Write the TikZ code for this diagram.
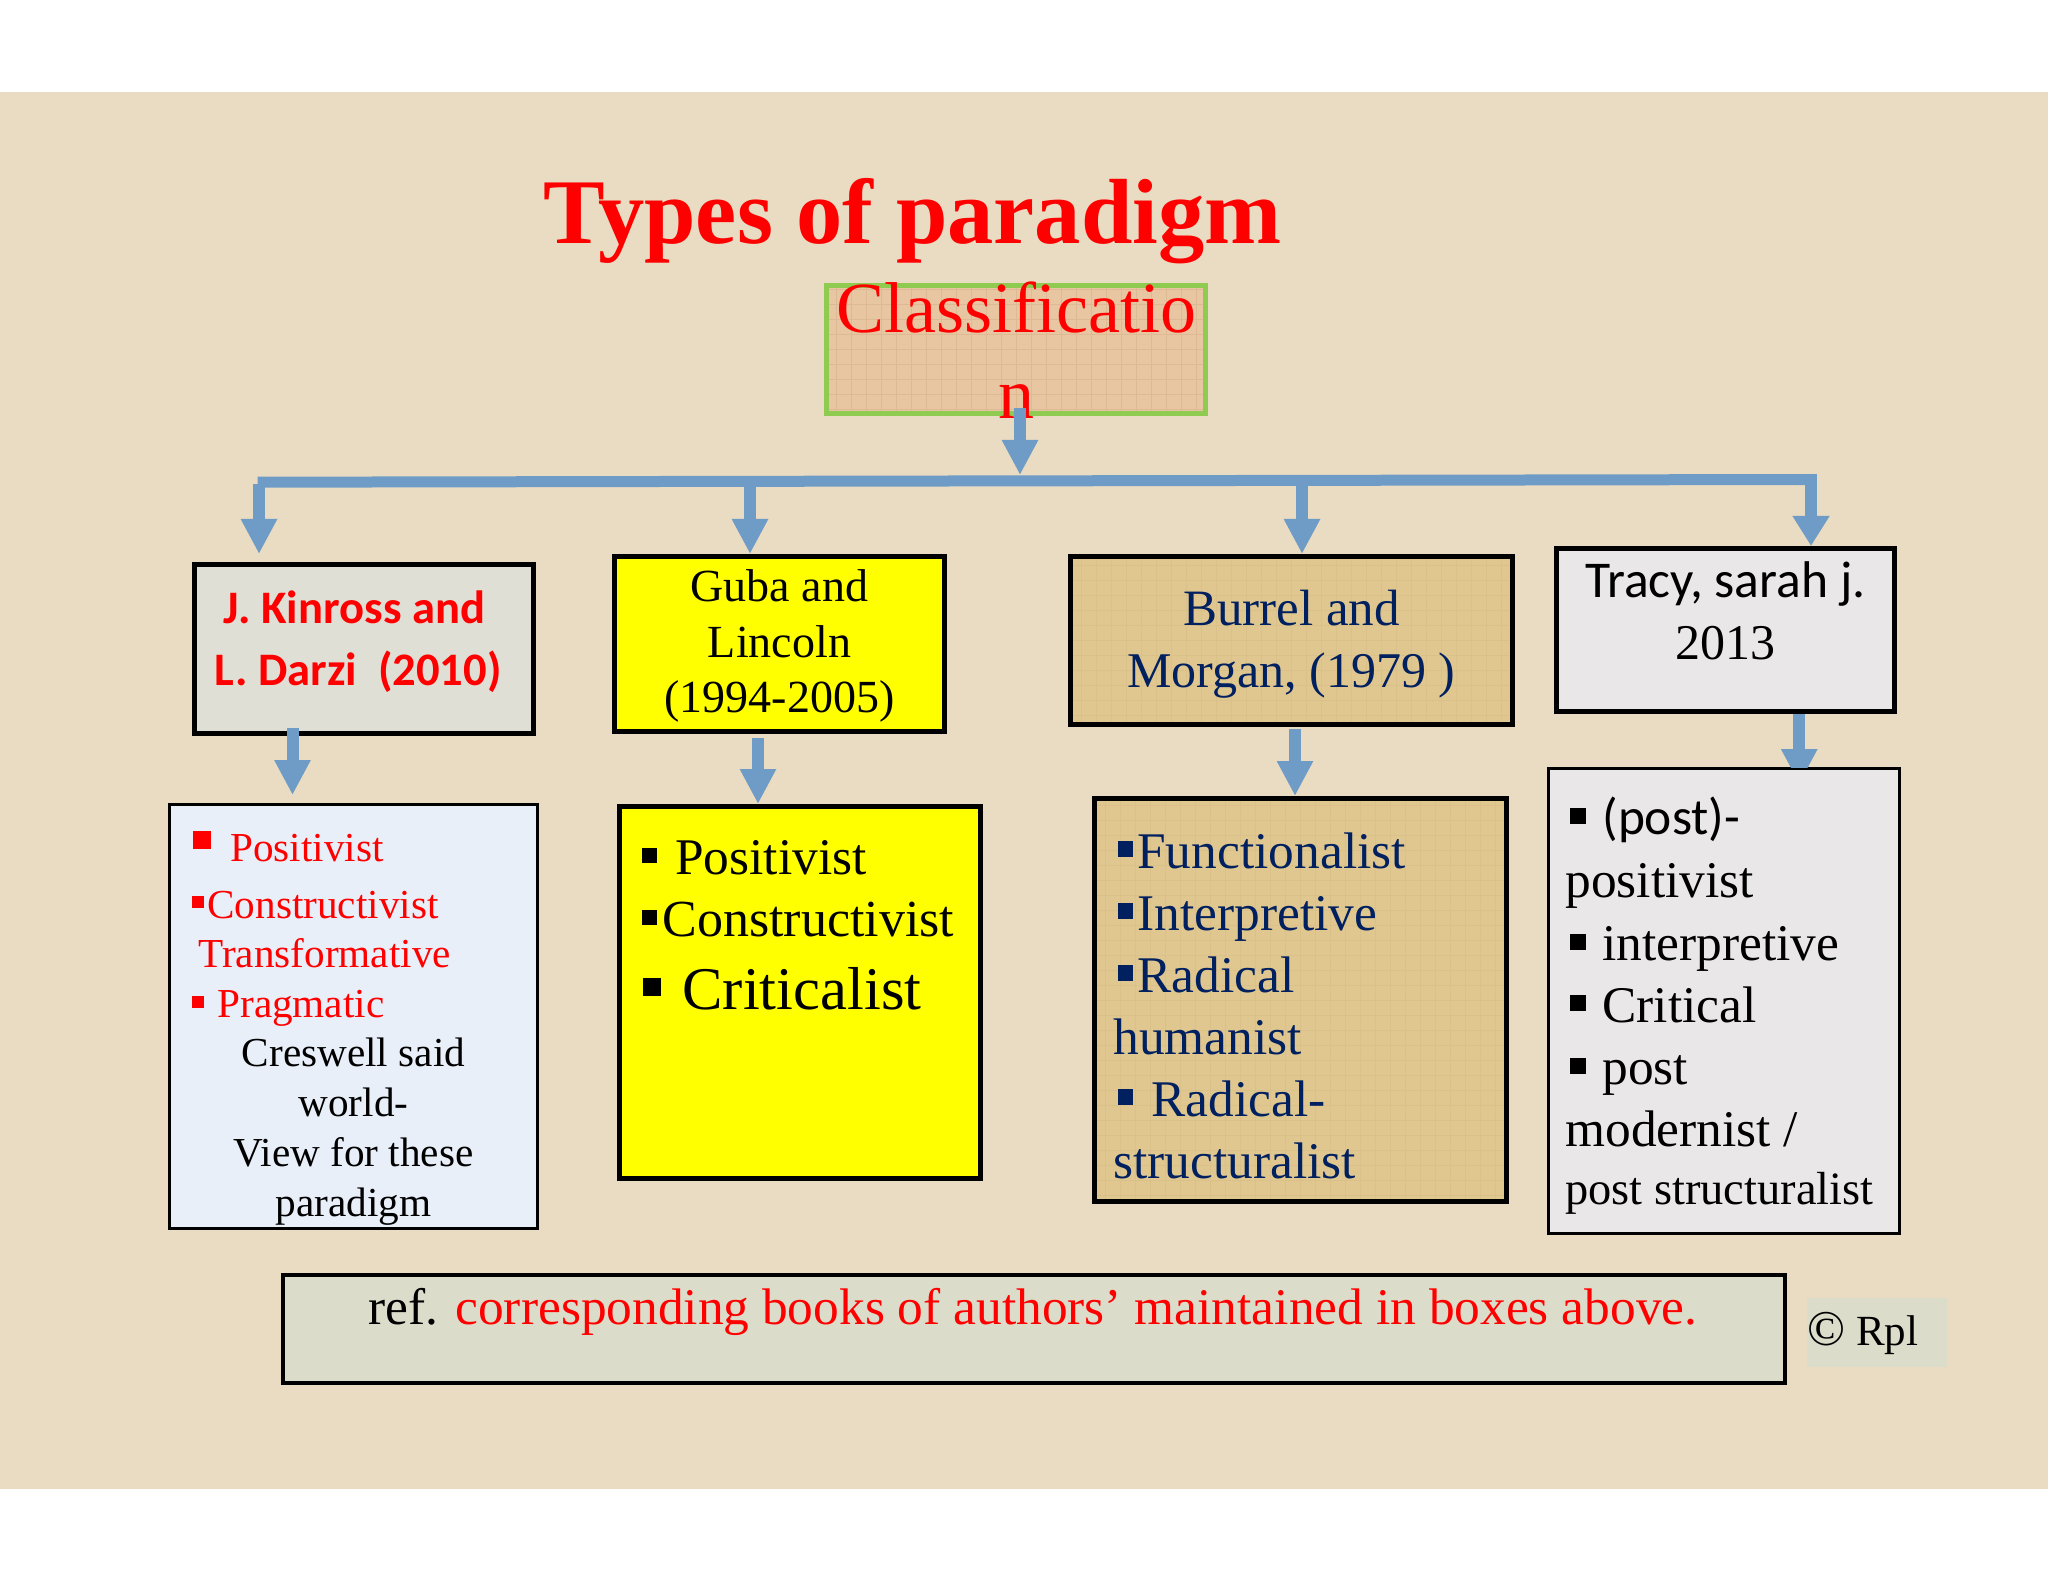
\documentclass[tikz,border=0pt]{standalone}
\usepackage{fontspec}
\setmainfont{Liberation Serif}
\newfontfamily\calibrifont{Carlito}
\usetikzlibrary{positioning,arrows.meta}
\definecolor{slidebg}{HTML}{EADCC2}
\definecolor{flowblue}{HTML}{6F9CC6}
\definecolor{leafgreen}{HTML}{8FCB50}
\definecolor{peach}{HTML}{E8C6A2}
\definecolor{peachline}{HTML}{DDB994}
\definecolor{tan}{HTML}{E0C78F}
\definecolor{tanline}{HTML}{DAC189}
\definecolor{sage}{HTML}{DFDFD5}
\definecolor{refsage}{HTML}{DBDDCA}
\definecolor{paleblue}{HTML}{E9EFF8}
\definecolor{palegrey}{HTML}{E9E7E8}
\definecolor{navy}{HTML}{002060}
\definecolor{brightyellow}{HTML}{FFFF00}
\tikzset{
  meshfill/.style={
    path picture={
      \draw[#1, line width=.25pt, step=7.5pt]
        (path picture bounding box.south west) grid (path picture bounding box.north east);
    }
  },
}

\begin{document}
\begin{tikzpicture}[
    boxstyle/.style={draw=black, line width=2.5pt, anchor=north west, inner sep=0pt},
    thinbox/.style={draw=black, line width=1.5pt, anchor=north west, inner sep=0pt},
    flow/.style={draw=flowblue, line width=6pt, -{Triangle[length=17.5pt,width=17pt]}},
    busline/.style={draw=flowblue, line width=5.5pt},
    sqmark/.style={minimum size=#1, inner sep=0pt, outer sep=0pt, anchor=north west},
    listitem/.style={inner sep=0pt, anchor=base west, font=\fontsize{25.7}{30}\selectfont},
    smallitem/.style={inner sep=0pt, anchor=base west, font=\fontsize{20.6}{24}\selectfont},
    boxline/.style={inner sep=0pt, anchor=base, font=\fontsize{25.5}{30}\selectfont},
  ]
  \useasboundingbox (0,0) rectangle (1024pt,-791pt);
  \fill[slidebg] (0,-46pt) rectangle (1024pt,-744.5pt);

  \node (title) [inner sep=0pt, anchor=base west, text=red, font=\fontsize{46.25}{50}\selectfont\bfseries] at (271.5pt,-122pt) {Types of paradigm};

  % top box
  \node (classbox) [below right=19.5pt and 140.5pt of title.base west, boxstyle, draw=leafgreen, fill=peach, meshfill=peachline, minimum width=189.5pt, minimum height=64pt] {};
  \node (class-a) [below=25pt of classbox.north, boxline, text=red, font=\fontsize{36}{40}\selectfont] {Classif{}icatio};
  \node (class-b) [below=68pt of classbox.north, boxline, text=red, font=\fontsize{36}{40}\selectfont] {n};

  % authors
  \node (kinross) [below left=73pt and 316pt of classbox.south west, boxstyle, fill=sage, minimum width=169.5pt, minimum height=84.5pt] {};
  \node (guba) [right=38pt of kinross.north east, yshift=4pt, boxstyle, fill=brightyellow, minimum width=165pt, minimum height=87.5pt] {};
  \node (burrel) [right=60.5pt of guba.north east, boxstyle, fill=tan, meshfill=tanline, minimum width=221pt, minimum height=84pt] {};
  \node (tracy) [right=19.25pt of burrel.north east, yshift=4pt, boxstyle, fill=palegrey, minimum width=169.25pt, minimum height=81.5pt] {};

  \node (kinross-a) [below right=31pt and 15.5pt of kinross.north west, listitem, text=red, font=\fontsize{23.3}{27}\selectfont\calibrifont\bfseries] {J. Kinross and};
  \node (kinross-b) [below right=61.5pt and 11pt of kinross.north west, listitem, text=red, font=\fontsize{23.3}{27}\selectfont\calibrifont\bfseries] {L. Darzi~~(2010)};

  \node (guba-a) [below=24pt of guba.north, boxline, font=\fontsize{23}{27}\selectfont] {Guba and};
  \node (guba-b) [below=51.5pt of guba.north, boxline, font=\fontsize{23}{27}\selectfont] {Lincoln};
  \node (guba-c) [below=79pt of guba.north, boxline, font=\fontsize{23}{27}\selectfont] {(1994-2005)};

  \node (burrel-a) [below=35.5pt of burrel.north, boxline, text=navy] {Burrel and};
  \node (burrel-b) [below=66.5pt of burrel.north, boxline, text=navy, font=\fontsize{25}{30}\selectfont] {Morgan, (1979 )};

  \node (tracy-a) [below=25.5pt of tracy.north, boxline, font=\fontsize{25.8}{30}\selectfont\calibrifont] {Tracy, sarah j.};
  \node (tracy-b) [below=56.5pt of tracy.north, boxline, font=\fontsize{25}{30}\selectfont] {2013};

  % lists
  \node (kinrosslist) [below=33.5pt of kinross.south west, xshift=-12pt, thinbox, fill=paleblue, minimum width=184pt, minimum height=212pt] {};
  \node (gubalist) [below=35pt of guba.south west, xshift=2.5pt, boxstyle, fill=brightyellow, minimum width=180.5pt, minimum height=186pt] {};
  \node (burrellist) [below=34.5pt of burrel.south west, xshift=12pt, boxstyle, fill=tan, meshfill=tanline, minimum width=206pt, minimum height=201.5pt] {};
  \node (tracylist) [below=26.5pt of tracy.south west, xshift=-3.25pt, thinbox, fill=palegrey, minimum width=175.5pt, minimum height=232.5pt] {};

  \node (kl-mark-a) [below right=14pt and 12.5pt of kinrosslist.north west, sqmark=9pt, fill=red] {};
  \node (kl-a) [below right=29pt and 31pt of kinrosslist.north west, smallitem, text=red] {Positivist};
  \node (kl-mark-b) [below right=46.5pt and 12pt of kinrosslist.north west, sqmark=6pt, fill=red] {};
  \node (kl-b) [below right=57.5pt and 19.5pt of kinrosslist.north west, smallitem, text=red] {Constructivist};
  \node (kl-c) [below right=82pt and 15pt of kinrosslist.north west, smallitem, text=red] {Transformative};
  \node (kl-mark-d) [below right=96.5pt and 12pt of kinrosslist.north west, sqmark=6pt, fill=red] {};
  \node (kl-d) [below right=107pt and 24.5pt of kinrosslist.north west, smallitem, text=red] {Pragmatic};
  \node (kl-e) [below=131.5pt of kinrosslist.north, smallitem, anchor=base] {Creswell said};
  \node (kl-f) [below=156.5pt of kinrosslist.north, smallitem, anchor=base] {world-};
  \node (kl-g) [below=181.5pt of kinrosslist.north, smallitem, anchor=base] {View for these};
  \node (kl-h) [below=206.5pt of kinrosslist.north, smallitem, anchor=base] {paradigm};

  \node (gl-mark-a) [below right=22pt and 12.5pt of gubalist.north west, sqmark=7.5pt, fill=black] {};
  \node (gl-a) [below right=35pt and 29pt of gubalist.north west, listitem] {Positivist};
  \node (gl-mark-b) [below right=53pt and 12.5pt of gubalist.north west, sqmark=7.5pt, fill=black] {};
  \node (gl-b) [below right=66pt and 22.5pt of gubalist.north west, listitem, font=\fontsize{26}{30}\selectfont] {Constructivist};
  \node (gl-mark-c) [below right=87pt and 13pt of gubalist.north west, sqmark=9pt, fill=black] {};
  \node (gl-c) [below right=102.5pt and 32.5pt of gubalist.north west, listitem, font=\fontsize{30.3}{34}\selectfont] {Criticalist};

  \node (bl-mark-a) [below right=22.5pt and 12.75pt of burrellist.north west, sqmark=7.75pt, fill=navy] {};
  \node (bl-a) [below right=36.25pt and 22.5pt of burrellist.north west, listitem, text=navy] {Functionalist};
  \node (bl-mark-b) [below right=53.5pt and 12.75pt of burrellist.north west, sqmark=7.75pt, fill=navy] {};
  \node (bl-b) [below right=67pt and 22.5pt of burrellist.north west, listitem, text=navy] {Interpretive};
  \node (bl-mark-c) [below right=84.5pt and 12.75pt of burrellist.north west, sqmark=7.75pt, fill=navy] {};
  \node (bl-c) [below right=98pt and 22.5pt of burrellist.north west, listitem, text=navy] {Radical};
  \node (bl-d) [below right=129pt and 10.5pt of burrellist.north west, listitem, text=navy] {humanist};
  \node (bl-mark-e) [below right=146.5pt and 12.75pt of burrellist.north west, sqmark=7.75pt, fill=navy] {};
  \node (bl-e) [below right=160pt and 29.5pt of burrellist.north west, listitem, text=navy] {Radical-};
  \node (bl-f) [below right=191pt and 10.5pt of burrellist.north west, listitem, text=navy] {structuralist};

  \node (tl-mark-a) [below right=20.5pt and 11.5pt of tracylist.north west, sqmark=7.75pt, fill=black] {};
  \node (tl-a) [below right=33.5pt and 27.5pt of tracylist.north west, listitem, font=\fontsize{25.7}{30}\selectfont\calibrifont] {(post)-};
  \node (tl-b) [below right=65pt and 9pt of tracylist.north west, listitem] {positivist};
  \node (tl-mark-c) [below right=83.5pt and 11.5pt of tracylist.north west, sqmark=7.75pt, fill=black] {};
  \node (tl-c) [below right=96.5pt and 27.5pt of tracylist.north west, listitem] {interpretive};
  \node (tl-mark-d) [below right=114pt and 11.5pt of tracylist.north west, sqmark=7.75pt, fill=black] {};
  \node (tl-d) [below right=127.5pt and 27.5pt of tracylist.north west, listitem] {Critical};
  \node (tl-mark-e) [below right=145.5pt and 11.5pt of tracylist.north west, sqmark=7.75pt, fill=black] {};
  \node (tl-e) [below right=158.5pt and 27.5pt of tracylist.north west, listitem] {post};
  \node (tl-f) [below right=189.5pt and 9pt of tracylist.north west, listitem] {modernist /};
  \node (tl-g) [below right=218.5pt and 9pt of tracylist.north west, listitem, font=\fontsize{23.2}{27}\selectfont] {post structuralist};

  % footer
  \node (refbox) [below right=21.5pt and 56.5pt of kinrosslist.south west, boxstyle, line width=2pt, fill=refsage, minimum width=751pt, minimum height=54pt] {};
  \node (ref-text) [below right=25.5pt and 43.5pt of refbox.north west, listitem, font=\fontsize{25.7}{28}\selectfont] {ref. \textcolor{red}{corresponding books of authors’ maintained in boxes above.}};
  \node (rplbox) [right=10pt of refbox.north east, yshift=-12.5pt, anchor=north west, inner sep=0pt, outer sep=0pt, fill=refsage, minimum width=70pt, minimum height=34.5pt] {};
  \node (rpl-text) [below right=23.5pt and 0pt of rplbox.north west, listitem, font=\fontsize{21.5}{25}\selectfont] {{\fontsize{25}{25}\selectfont ©} Rpl};

  % connectors
  \coordinate (bus-l) at (128.85pt,-241.1pt);
  \coordinate (bus-r) at (907pt,-239.75pt);
  \coordinate (bus-a) at (129.5pt,-242pt);
  \coordinate (bus-b) at (375pt,-241pt);
  \coordinate (bus-mid) at (510pt,-237.5pt);
  \coordinate (bus-c) at (651pt,-240pt);
  \coordinate (bus-d) at (905.5pt,-237pt);
  \coordinate (class-out) at ([xshift=2pt,yshift=4pt]classbox.south);
  \coordinate (kinross-out) at ([xshift=-35.75pt,yshift=4pt]kinross.south);
  \coordinate (guba-out) at ([xshift=-10.75pt,yshift=-2pt]guba.south);
  \coordinate (burrel-out) at ([xshift=1.75pt,yshift=-1pt]burrel.south);
  \coordinate (tracy-out) at ([xshift=37pt]tracy.south);

  \draw[busline] (bus-l) -- (bus-r);
  \draw[flow] (class-out) -- (class-out |- bus-mid);
  \draw[flow, shorten >=4pt] (bus-a) -- (bus-a |- kinross.north);
  \draw[flow] (bus-b) -- (bus-b |- guba.north);
  \draw[flow] (bus-c) -- (bus-c |- burrel.north);
  \draw[flow, -{Triangle[length=15pt,width=17.5pt]}] (bus-d) -- (bus-d |- tracy.north);

  \draw[flow, shorten >=4pt] (kinross-out) -- (kinross-out |- kinrosslist.north);
  \draw[flow] (guba-out) -- (guba-out |- gubalist.north);
  \draw[flow] (burrel-out) -- (burrel-out |- burrellist.north);
  \begin{scope}
    \clip (tracy.south west) rectangle (tracylist.north east);
    \draw[flow, shorten >=-8.5pt] (tracy-out) -- (tracy-out |- tracylist.north);
  \end{scope}
\end{tikzpicture}
\end{document}
